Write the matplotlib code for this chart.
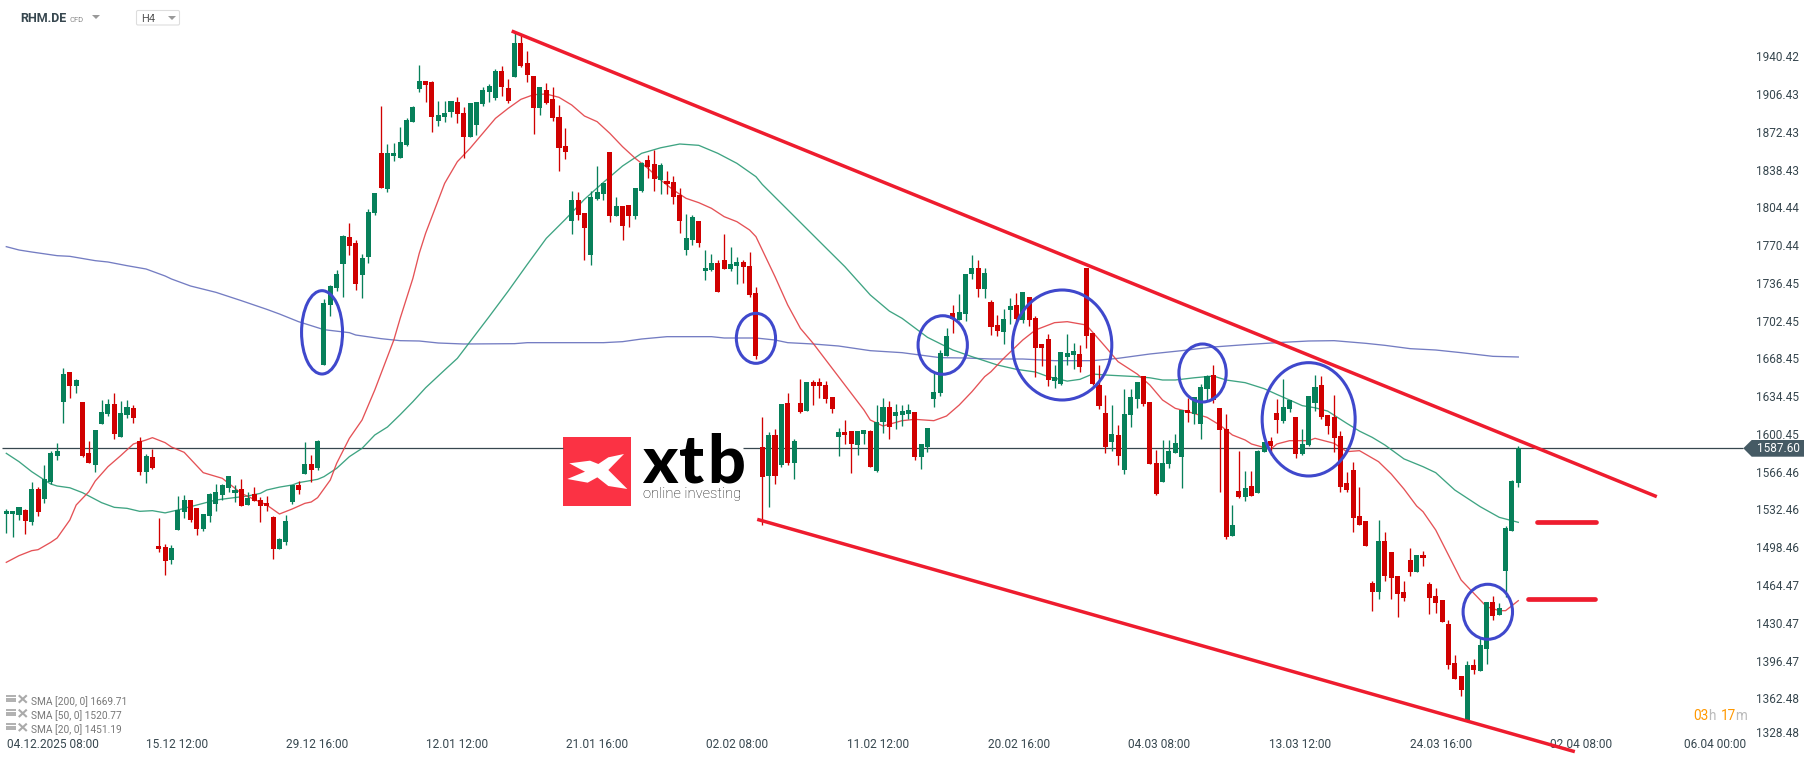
import matplotlib
matplotlib.use("Agg")
import matplotlib.pyplot as plt
from matplotlib.patches import Ellipse, Polygon, Rectangle, FancyBboxPatch

plt.rcParams["font.family"] = ["Roboto", "DejaVu Sans"]

# candles, one row per ten bars
opens = [
    1528.7, 1528.7, 1527.5, 1532.0, 1521.2, 1550.9, 1541.9, 1557.2, 1580.6, 1629.2,
    1656.2, 1643.6, 1629.2, 1583.3, 1572.5, 1609.4, 1618.4, 1627.4, 1597.7, 1617.5,
    1623.8, 1594.1, 1566.2, 1579.7, 1499.6, 1498.7, 1487.0, 1514.0, 1530.2, 1541.0,
    1533.8, 1514.9, 1526.6, 1537.4, 1545.5, 1551.8, 1547.3, 1550.9, 1536.5, 1546.4,
    1541.0, 1538.3, 1525.7, 1496.9, 1503.2, 1539.2, 1554.5, 1564.4, 1573.4, 1569.8,
    1662.5, 1716.5, 1731.8, 1753.4, 1777.7, 1772.3, 1743.5, 1759.7, 1799.3, 1853.3,
    1820.9, 1850.6, 1848.8, 1860.5, 1881.2, 1910.9, 1918.1, 1917.2, 1882.1, 1885.7,
    1890.2, 1899.2, 1889.3, 1867.7, 1878.5, 1897.4, 1908.2, 1902.8, 1927.1, 1911.8,
    1921.7, 1952.3, 1934.3, 1922.6, 1893.8, 1910.0, 1901.9, 1885.7, 1859.6, 1792.1,
    1811.0, 1799.3, 1761.5, 1811.9, 1816.4, 1854.2, 1796.6, 1805.6, 1806.5, 1796.6,
    1819.1, 1847.0, 1843.4, 1829.0, 1828.1, 1827.2, 1815.5, 1766.0, 1775.0, 1792.1,
    1747.1, 1748.0, 1754.3, 1757.0, 1748.9, 1751.6, 1755.2, 1751.6, 1727.3, 1588.7,
    1562.6, 1599.5, 1572.5, 1628.3, 1574.3, 1628.3, 1621.1, 1647.2, 1647.2, 1644.5,
    1633.7, 1597.7, 1602.2, 1603.1, 1590.5, 1600.4, 1603.1, 1567.1, 1611.2, 1624.7,
    1616.6, 1617.5, 1618.4, 1620.2, 1579.7, 1588.7, 1631.9, 1637.3, 1670.6, 1709.3,
    1703.0, 1708.4, 1744.4, 1749.8, 1730.9, 1719.2, 1698.5, 1692.2, 1712.0, 1716.5,
    1703.0, 1723.7, 1704.8, 1681.4, 1685.9, 1648.1, 1645.4, 1669.7, 1671.5, 1672.4,
    1749.8, 1691.3, 1644.5, 1619.3, 1593.2, 1599.5, 1568.0, 1617.5, 1631.9, 1652.6,
    1629.2, 1574.3, 1557.2, 1573.4, 1583.3, 1579.7, 1622.0, 1618.4, 1609.4, 1640.9,
    1653.5, 1623.8, 1604.9, 1508.6, 1549.1, 1543.7, 1553.6, 1547.3, 1584.2, 1594.1,
    1619.3, 1612.1, 1622.9, 1615.7, 1582.4, 1590.5, 1628.3, 1644.5, 1617.5, 1615.7,
    1598.6, 1556.3, 1568.0, 1526.6, 1522.1, 1466.3, 1458.2, 1504.1, 1494.2, 1472.6,
    1458.2, 1487.0, 1476.2, 1491.5, 1465.4, 1454.6, 1451.0, 1429.4, 1394.3, 1382.6,
    1343.0, 1392.5, 1387.1, 1406.9, 1449.2, 1437.5, 1477.1, 1513.1, 1556.3,
]
closes = [
    1531.1, 1531.1, 1534.7, 1522.4, 1550.9, 1530.2, 1559.9, 1583.3, 1585.1, 1654.4,
    1643.6, 1649.0, 1580.6, 1574.3, 1604.0, 1620.2, 1627.4, 1600.4, 1619.3, 1624.7,
    1614.8, 1566.2, 1580.6, 1569.8, 1496.9, 1486.1, 1497.8, 1532.0, 1541.0, 1523.0,
    1514.9, 1528.4, 1546.4, 1548.2, 1554.5, 1562.6, 1550.0, 1535.6, 1542.8, 1540.1,
    1535.6, 1535.6, 1496.9, 1505.9, 1522.1, 1554.5, 1550.0, 1573.4, 1568.0, 1594.1,
    1718.3, 1733.6, 1744.4, 1778.6, 1769.6, 1735.4, 1758.8, 1800.2, 1817.3, 1821.8,
    1853.3, 1853.3, 1863.2, 1883.0, 1894.7, 1918.1, 1914.5, 1885.7, 1887.5, 1889.3,
    1900.1, 1888.4, 1867.7, 1898.3, 1899.2, 1910.0, 1913.6, 1927.1, 1912.7, 1900.1,
    1952.3, 1931.6, 1923.5, 1893.8, 1912.7, 1898.3, 1884.8, 1857.8, 1854.2, 1811.0,
    1797.5, 1785.8, 1813.7, 1818.2, 1826.3, 1796.6, 1805.6, 1787.6, 1796.6, 1821.8,
    1844.3, 1840.7, 1829.9, 1842.5, 1825.4, 1813.7, 1792.1, 1776.8, 1795.7, 1772.3,
    1749.8, 1754.3, 1728.2, 1748.9, 1753.4, 1755.2, 1750.7, 1725.5, 1670.6, 1561.7,
    1599.5, 1562.6, 1627.4, 1574.3, 1594.1, 1620.2, 1647.2, 1643.6, 1643.6, 1631.9,
    1622.9, 1602.2, 1599.5, 1591.4, 1603.1, 1604.0, 1570.7, 1611.2, 1624.7, 1606.7,
    1620.2, 1621.1, 1622.0, 1579.7, 1591.4, 1605.8, 1638.2, 1673.3, 1688.6, 1703.9,
    1710.2, 1744.4, 1749.8, 1730.9, 1745.3, 1696.7, 1693.1, 1703.9, 1715.6, 1703.9,
    1728.2, 1703.0, 1677.8, 1677.8, 1649.0, 1651.7, 1674.2, 1673.3, 1675.1, 1660.7,
    1688.6, 1645.4, 1625.6, 1588.7, 1600.4, 1580.6, 1618.4, 1633.7, 1647.2, 1627.4,
    1573.4, 1546.4, 1574.3, 1585.1, 1592.3, 1622.0, 1619.3, 1633.7, 1642.7, 1652.6,
    1631.0, 1604.0, 1507.7, 1518.5, 1543.7, 1551.8, 1544.6, 1585.1, 1593.2, 1589.6,
    1613.0, 1624.7, 1631.0, 1582.4, 1591.4, 1634.6, 1642.7, 1615.7, 1607.6, 1596.8,
    1552.7, 1550.0, 1524.8, 1518.5, 1499.6, 1458.2, 1504.1, 1472.6, 1470.8, 1456.4,
    1452.8, 1476.2, 1491.5, 1488.8, 1452.8, 1448.3, 1431.2, 1392.5, 1379.9, 1370.0,
    1392.5, 1388.0, 1410.5, 1449.2, 1436.6, 1443.8, 1515.8, 1558.1, 1587.6,
]
highs = [
    1532.9, 1531.1, 1534.7, 1532.9, 1557.2, 1552.7, 1572.5, 1585.1, 1592.3, 1659.8,
    1656.2, 1649.9, 1629.2, 1594.1, 1604.0, 1631.0, 1631.9, 1637.3, 1630.1, 1631.0,
    1626.5, 1597.7, 1582.4, 1586.9, 1524.8, 1501.4, 1500.5, 1544.6, 1545.5, 1541.0,
    1533.8, 1528.4, 1547.3, 1555.4, 1555.4, 1562.6, 1554.5, 1559.9, 1548.2, 1552.7,
    1543.7, 1544.6, 1526.6, 1506.8, 1527.5, 1554.5, 1558.1, 1593.2, 1581.5, 1595.0,
    1721.6, 1734.5, 1748.0, 1779.5, 1790.3, 1775.0, 1762.4, 1802.9, 1817.3, 1895.6,
    1861.4, 1862.3, 1876.7, 1884.8, 1895.6, 1932.5, 1918.1, 1918.1, 1900.1, 1900.1,
    1900.1, 1903.7, 1894.7, 1898.3, 1899.2, 1912.7, 1915.4, 1928.9, 1931.6, 1919.9,
    1961.3, 1959.5, 1945.1, 1922.6, 1912.7, 1916.3, 1912.7, 1896.5, 1875.8, 1819.1,
    1818.2, 1799.3, 1819.1, 1841.6, 1826.3, 1854.2, 1813.7, 1805.6, 1806.5, 1821.8,
    1845.2, 1851.5, 1856.0, 1844.3, 1837.1, 1832.6, 1821.8, 1798.4, 1797.5, 1792.1,
    1766.0, 1762.4, 1757.0, 1780.4, 1768.7, 1759.7, 1757.0, 1764.2, 1732.7, 1615.7,
    1602.2, 1604.9, 1627.4, 1637.3, 1595.9, 1649.9, 1647.2, 1649.0, 1650.8, 1648.1,
    1633.7, 1605.8, 1613.0, 1603.1, 1603.1, 1604.0, 1604.0, 1626.5, 1632.8, 1630.1,
    1627.4, 1626.5, 1627.4, 1620.2, 1591.4, 1605.8, 1655.3, 1676.0, 1695.8, 1716.5,
    1726.4, 1744.4, 1761.5, 1757.0, 1749.8, 1721.0, 1707.5, 1712.9, 1722.8, 1727.3,
    1728.2, 1723.7, 1706.6, 1681.4, 1690.4, 1662.5, 1674.2, 1690.4, 1682.3, 1680.5,
    1749.8, 1691.3, 1662.5, 1635.5, 1626.5, 1608.5, 1640.9, 1640.9, 1647.2, 1652.6,
    1629.2, 1586.0, 1595.0, 1595.0, 1600.4, 1622.0, 1632.8, 1633.7, 1645.4, 1653.5,
    1662.5, 1623.8, 1618.4, 1536.5, 1585.1, 1567.1, 1567.1, 1586.0, 1593.2, 1597.7,
    1631.9, 1649.9, 1631.0, 1615.7, 1604.9, 1634.6, 1653.5, 1652.6, 1617.5, 1635.5,
    1603.1, 1566.2, 1575.2, 1552.7, 1522.1, 1468.1, 1523.0, 1512.2, 1494.2, 1472.6,
    1468.1, 1497.8, 1491.5, 1495.1, 1467.2, 1461.8, 1451.0, 1433.0, 1401.5, 1382.6,
    1396.1, 1397.9, 1416.8, 1449.2, 1454.6, 1448.3, 1517.6, 1559.0, 1589.6,
]
lows = [
    1511.6, 1508.0, 1523.0, 1510.4, 1518.5, 1526.6, 1538.3, 1555.4, 1577.0, 1610.3,
    1632.8, 1637.3, 1579.7, 1574.3, 1566.2, 1609.4, 1616.6, 1595.9, 1597.7, 1614.8,
    1610.3, 1563.5, 1556.3, 1568.9, 1494.2, 1473.5, 1483.4, 1514.0, 1524.8, 1521.2,
    1509.5, 1513.1, 1521.2, 1531.1, 1541.0, 1548.2, 1539.2, 1535.6, 1536.5, 1540.1,
    1521.2, 1531.1, 1487.9, 1496.9, 1500.5, 1537.4, 1546.4, 1564.4, 1557.2, 1568.0,
    1662.5, 1706.6, 1729.1, 1723.7, 1761.5, 1730.0, 1722.8, 1754.3, 1797.5, 1821.8,
    1818.2, 1846.1, 1848.8, 1859.6, 1881.2, 1908.2, 1899.2, 1872.2, 1877.6, 1881.2,
    1885.7, 1880.3, 1848.8, 1867.7, 1869.5, 1895.6, 1899.2, 1901.0, 1904.6, 1898.3,
    1921.7, 1930.7, 1917.2, 1870.4, 1887.5, 1897.4, 1882.1, 1837.1, 1847.9, 1780.4,
    1793.0, 1757.0, 1752.5, 1811.0, 1811.0, 1791.2, 1796.6, 1775.0, 1786.7, 1793.9,
    1818.2, 1830.8, 1819.1, 1816.4, 1816.4, 1807.4, 1781.3, 1761.5, 1770.5, 1768.7,
    1739.0, 1747.1, 1728.2, 1748.9, 1747.1, 1735.4, 1736.3, 1723.7, 1667.9, 1518.5,
    1534.7, 1555.4, 1570.7, 1572.5, 1559.9, 1619.3, 1621.1, 1626.5, 1632.8, 1628.3,
    1619.3, 1580.6, 1591.4, 1565.3, 1581.5, 1591.4, 1570.7, 1566.2, 1601.3, 1595.9,
    1604.9, 1607.6, 1613.9, 1577.0, 1568.9, 1584.2, 1624.7, 1634.6, 1670.6, 1691.3,
    1703.0, 1702.1, 1739.9, 1723.7, 1722.8, 1689.5, 1688.6, 1681.4, 1699.4, 1700.3,
    1700.3, 1697.6, 1651.7, 1661.6, 1643.6, 1641.8, 1644.5, 1662.5, 1658.9, 1656.2,
    1677.8, 1644.5, 1622.9, 1583.3, 1585.1, 1572.5, 1564.4, 1606.7, 1623.8, 1625.6,
    1573.4, 1545.5, 1557.2, 1569.8, 1583.3, 1551.8, 1611.2, 1609.4, 1595.9, 1631.0,
    1628.3, 1548.2, 1505.9, 1508.6, 1542.8, 1540.1, 1544.6, 1547.3, 1584.2, 1581.5,
    1601.3, 1610.3, 1620.2, 1578.8, 1581.5, 1589.6, 1621.1, 1613.9, 1600.4, 1584.2,
    1548.2, 1548.2, 1512.2, 1518.5, 1499.6, 1441.1, 1451.9, 1468.1, 1451.9, 1435.7,
    1450.1, 1472.6, 1476.2, 1481.6, 1438.4, 1439.3, 1431.2, 1388.9, 1379.9, 1364.6,
    1343.0, 1384.4, 1387.1, 1393.4, 1433.0, 1437.5, 1454.0, 1513.1, 1552.7,
]

# moving averages read at the listed bars
sma20_bars = [0, 2, 4, 5, 7, 8, 10, 11, 13, 14, 16, 18, 20, 22, 23, 25, 26, 28, 31, 34, 36, 37, 39, 41, 43, 45, 47, 48, 49, 51, 52, 54, 56, 58, 60, 61, 62, 64, 65, 66, 67, 69, 71, 73, 75, 77, 79, 81, 83, 85, 87, 89, 91, 93, 95, 97, 99, 101, 103, 105, 107, 109, 111, 113, 115, 117, 118, 119, 121, 123, 125, 127, 129, 131, 133, 135, 136, 138, 141, 143, 146, 148, 150, 152, 154, 155, 157, 160, 162, 165, 167, 170, 173, 175, 178, 180, 182, 184, 186, 189, 191, 193, 195, 196, 199, 200, 202, 205, 206, 209, 211, 213, 216, 218, 220, 222, 223, 225, 227, 229, 231, 233, 235, 236, 238]
sma20 = [1484.9, 1490.9, 1495.4, 1496.3, 1502.9, 1506.8, 1523.0, 1536.5, 1548.5, 1558.1, 1571.0, 1580.9, 1591.4, 1595.0, 1597.1, 1592.6, 1588.7, 1583.9, 1565.6, 1560.5, 1551.5, 1547.0, 1541.6, 1536.5, 1528.4, 1532.9, 1538.0, 1539.2, 1543.1, 1559.0, 1574.0, 1596.5, 1613.0, 1640.0, 1670.0, 1685.0, 1704.5, 1740.5, 1763.0, 1781.0, 1796.0, 1826.0, 1845.5, 1857.5, 1871.0, 1884.5, 1893.5, 1901.6, 1905.8, 1906.4, 1903.4, 1896.5, 1886.6, 1881.5, 1871.0, 1859.0, 1848.5, 1839.5, 1829.0, 1820.0, 1812.5, 1808.6, 1803.5, 1796.0, 1791.5, 1784.0, 1778.0, 1766.0, 1742.0, 1716.5, 1695.5, 1682.0, 1667.0, 1652.0, 1637.0, 1622.0, 1613.0, 1607.6, 1612.4, 1613.6, 1612.4, 1616.6, 1626.5, 1638.5, 1652.0, 1656.5, 1668.5, 1685.0, 1694.0, 1700.6, 1701.5, 1698.5, 1679.0, 1665.5, 1654.4, 1644.5, 1631.0, 1623.5, 1620.5, 1615.4, 1608.5, 1599.5, 1595.0, 1591.4, 1586.6, 1591.4, 1594.4, 1594.4, 1596.5, 1592.0, 1584.5, 1585.4, 1575.5, 1564.4, 1550.9, 1535.6, 1530.5, 1514.0, 1491.5, 1469.0, 1457.0, 1445.0, 1441.4, 1441.4, 1450.4]

sma50_bars = [0, 2, 4, 6, 7, 8, 10, 12, 15, 17, 19, 21, 23, 25, 27, 29, 31, 33, 35, 38, 40, 41, 43, 45, 46, 49, 50, 52, 54, 56, 58, 60, 62, 64, 66, 69, 71, 76, 79, 82, 85, 88, 91, 94, 97, 100, 103, 106, 109, 112, 115, 118, 119, 129, 132, 136, 139, 141, 145, 149, 152, 156, 159, 162, 164, 167, 169, 171, 173, 178, 180, 182, 184, 187, 190, 192, 195, 198, 200, 202, 204, 206, 208, 211, 213, 215, 217, 220, 223, 225, 228, 232, 235, 238]
sma50 = [1583.0, 1575.5, 1566.5, 1559.0, 1555.4, 1553.6, 1552.0, 1547.6, 1538.6, 1534.4, 1533.5, 1530.8, 1531.4, 1529.4, 1532.0, 1535.0, 1538.0, 1541.0, 1542.5, 1544.6, 1547.0, 1550.0, 1552.6, 1554.5, 1556.6, 1559.6, 1562.0, 1569.5, 1580.0, 1587.5, 1599.5, 1606.7, 1617.8, 1629.5, 1642.0, 1658.0, 1668.5, 1706.0, 1729.0, 1753.0, 1776.5, 1793.6, 1811.6, 1826.9, 1841.6, 1853.0, 1858.0, 1861.4, 1860.2, 1853.0, 1844.0, 1832.0, 1825.0, 1768.0, 1751.0, 1725.5, 1711.0, 1704.5, 1687.4, 1676.0, 1670.0, 1662.5, 1658.6, 1656.2, 1652.0, 1648.0, 1649.6, 1654.4, 1653.5, 1652.0, 1651.0, 1649.0, 1649.0, 1651.0, 1652.6, 1649.0, 1646.6, 1641.2, 1636.0, 1631.0, 1625.9, 1624.0, 1621.0, 1610.0, 1603.0, 1597.4, 1590.5, 1578.0, 1571.0, 1565.6, 1550.0, 1535.0, 1525.4, 1520.9]

sma200_bars = [0, 2, 4, 8, 10, 14, 16, 19, 22, 25, 26, 29, 33, 37, 41, 43, 46, 50, 54, 55, 59, 62, 65, 68, 72, 80, 82, 94, 97, 100, 104, 111, 113, 118, 121, 123, 127, 131, 136, 141, 147, 151, 155, 160, 165, 171, 175, 180, 185, 190, 195, 200, 205, 209, 214, 217, 221, 225, 229, 234, 238]
sma200 = [1769.0, 1766.0, 1764.2, 1760.9, 1760.3, 1756.4, 1755.2, 1751.9, 1748.9, 1742.6, 1739.9, 1733.6, 1727.9, 1720.4, 1712.6, 1708.4, 1701.5, 1694.3, 1691.6, 1689.5, 1686.2, 1684.4, 1684.1, 1682.3, 1681.4, 1681.7, 1682.6, 1682.6, 1683.5, 1685.9, 1688.0, 1688.0, 1686.8, 1686.8, 1685.0, 1682.6, 1681.4, 1679.6, 1675.4, 1673.6, 1669.1, 1668.8, 1667.9, 1667.9, 1666.4, 1666.4, 1668.5, 1672.4, 1675.4, 1678.7, 1680.8, 1682.6, 1684.1, 1684.4, 1682.0, 1680.2, 1677.2, 1676.0, 1673.6, 1670.3, 1669.7]

last_price = 1587.6

# drawn annotations, in bars and price
channel_top_bars = [79.55, 259.8]
channel_top = [1963.1, 1544.0]
channel_low_bars = [118.2, 246.9]
channel_low = [1523.6, 1314.5]
target_bars = [[241.0, 250.3], [239.5, 250.1]]
target_prices = [1520.9, 1451.6]
circle_bars = [49.7, 118.0, 147.4, 166.2, 188.3, 205.0, 233.2]
circle_prices = [1691.9, 1686.5, 1680.5, 1680.5, 1655.3, 1613.6, 1440.4]
circle_widths = [6.45, 6.17, 7.76, 15.63, 7.45, 14.64, 7.78]
circle_heights = [75.0, 45.0, 52.7, 99.0, 52.2, 102.0, 49.5]

y_tick_pos = [1940.42, 1906.43, 1872.43, 1838.43, 1804.44, 1770.44, 1736.45, 1702.45, 1668.45,
              1634.45, 1600.45, 1566.46, 1532.46, 1498.46, 1464.47, 1430.47, 1396.47, 1362.48, 1332.5]
y_tick_labels = ["1940.42", "1906.43", "1872.43", "1838.43", "1804.44", "1770.44", "1736.45", "1702.45",
                 "1668.45", "1634.45", "1600.45", "1566.46", "1532.46", "1498.46", "1464.47", "1430.47",
                 "1396.47", "1362.48", "1328.48"]
x_tick_pos = [7.3, 26.9, 48.9, 70.9, 93.0, 115.1, 137.2, 159.4, 181.5, 203.6, 225.8, 247.9, 268.9]
x_tick_labels = ["04.12.2025 08:00", "15.12 12:00", "29.12 16:00", "12.01 12:00", "21.01 16:00", "02.02 08:00",
                 "11.02 12:00", "20.02 16:00", "04.03 08:00", "13.03 12:00", "24.03 16:00", "02.04 08:00",
                 "06.04 00:00"]

legend_labels = ["SMA [200, 0] 1669.71", "SMA [50, 0] 1520.77", "SMA [20, 0] 1451.19"]

green = "#07805a"
red = "#d00000"
dark = "#37474f"

fig = plt.figure(figsize=(18.16, 7.61), dpi=100)

# chrome sits underneath, in pixel coordinates
pax = fig.add_axes([0, 0, 1, 1], zorder=0)
pax.set_xlim(0, 1816)
pax.set_ylim(761, 0)
pax.axis("off")

# logo
pax.add_patch(Rectangle((563.3, 437.3), 67.7, 68.4, fc="#fb3244", ec="none"))
wing = [(88, 130), (150, 122), (175, 132), (205, 112), (252, 102), (205, 150), (262, 207), (205, 198),
        (172, 172), (143, 188), (82, 177), (135, 155)]
pax.add_patch(Polygon([(540 + a / 3, 420 + b / 3) for a, b in wing], fc="white", ec="none"))
for xt, letter in [(659.6, "x"), (692.0, "t"), (726.5, "b")]:
    pax.text(xt, 482.7, letter, fontsize=48, fontfamily="Lato", fontweight="black", color="black",
             va="baseline", ha="center")
pax.text(643, 494, "online investing", fontsize=10.5, fontfamily="Roboto", fontweight="light", color="#111111",
         va="center", ha="left")

# header
pax.text(20, 19, "RHM.DE", fontsize=9, fontweight="bold", color=dark, va="center")
pax.text(69, 19.5, "CFD", fontsize=5.5, color="#888888", va="center")
pax.add_patch(Polygon([(92, 15), (100, 15), (96, 19)], fc="#999999", ec="none"))
pax.add_patch(FancyBboxPatch((136.5, 10.5), 43, 14.5, boxstyle="round,pad=0,rounding_size=1.5", fc="white",
                             ec="#dddddd", lw=0.8))
pax.text(141.5, 19.5, "H4", fontsize=8, color="#555555", va="center")
pax.add_patch(Polygon([(168, 16), (176, 16), (172, 20)], fc="#999999", ec="none"))

# indicator legend
for row, (label, yc) in enumerate(zip(legend_labels, [701, 715.3, 729.3])):
    for dy in (-5, -2.5, 0):
        pax.plot([6, 15.7], [yc + dy, yc + dy], color="#aaaaaa", lw=1.3, solid_capstyle="butt")
    pax.plot([19.5, 26], [yc - 5, yc + 1], color="#aaaaaa", lw=1.5)
    pax.plot([19.5, 26], [yc + 1, yc - 5], color="#aaaaaa", lw=1.5)
    pax.text(31, yc + 0.5, label, fontsize=7.3, color="#777777", va="center")

# countdown
for xt, piece, col in [(1693.3, "03", "#ff9800"), (1708.3, "h", "#bbbbbb"), (1720.7, "17", "#ff9800"),
                       (1735.2, "m", "#bbbbbb")]:
    pax.text(xt, 716, piece, fontsize=9.8, color=col, va="center")

# last price tag
pax.add_patch(Polygon([(1743.3, 448.3), (1751.7, 440), (1804, 440), (1804, 456.7), (1751.7, 456.7)],
                      fc="#455a64", ec="none"))
pax.text(1756.7, 448.8, "1587.60", fontsize=8.5, color="white", va="center")

# chart axes, bar number against price
ax = fig.add_axes([0, 0, 1, 1], zorder=1)
ax.patch.set_visible(False)
ax.set_xlim(-0.9917, 284.86)
ax.set_ylim(1306.1, 1991)
for sp in ax.spines.values():
    sp.set_visible(False)

ax.yaxis.tick_right()
ax.set_yticks(y_tick_pos)
ax.set_yticklabels(y_tick_labels)
ax.set_xticks(x_tick_pos)
ax.set_xticklabels(x_tick_labels)
ax.tick_params(axis="y", length=0, pad=-43, labelsize=8.5, labelcolor=dark)
ax.tick_params(axis="x", length=0, pad=-16.5, labelsize=8.6, labelcolor=dark)

# current price line, broken by the logo
ax.hlines(last_price, -0.68, 87.7, color=dark, lw=0.9, zorder=1)
ax.hlines(last_price, 116, 273.4, color=dark, lw=0.9, zorder=1)

ax.plot(sma200_bars, sma200, color="#5c66b8", lw=0.95, alpha=0.85, zorder=2)
ax.plot(sma50_bars, sma50, color="#2a9a75", lw=0.95, alpha=0.9, zorder=2)
ax.plot(sma20_bars, sma20, color="#e23f44", lw=0.95, alpha=0.9, zorder=2)

bars = list(range(len(opens)))
colors = [green if c >= o else red for o, c in zip(opens, closes)]
ax.vlines(bars, lows, highs, colors=colors, lw=0.95, zorder=3)
ax.bar(bars, [abs(c - o) for o, c in zip(opens, closes)], bottom=[min(o, c) for o, c in zip(opens, closes)],
       width=0.79, color=colors, lw=0, zorder=4)

# hand drawn channel and marks
ax.plot(channel_top_bars, channel_top, color="#ee1c2e", lw=2.5, zorder=5, solid_capstyle="butt", clip_on=False)
ax.plot(channel_low_bars, channel_low, color="#ee1c2e", lw=2.5, zorder=5, solid_capstyle="butt", clip_on=False)
for xs, p in zip(target_bars, target_prices):
    ax.plot(xs, [p, p], color="#ee1c2e", lw=3.4, zorder=5, solid_capstyle="round")
for xc, p, w, h in zip(circle_bars, circle_prices, circle_widths, circle_heights):
    ax.add_patch(Ellipse((xc, p), w, h, fc="none", ec="#3f48cc", lw=2.2, zorder=6))

fig.savefig("out.png", dpi=100)
